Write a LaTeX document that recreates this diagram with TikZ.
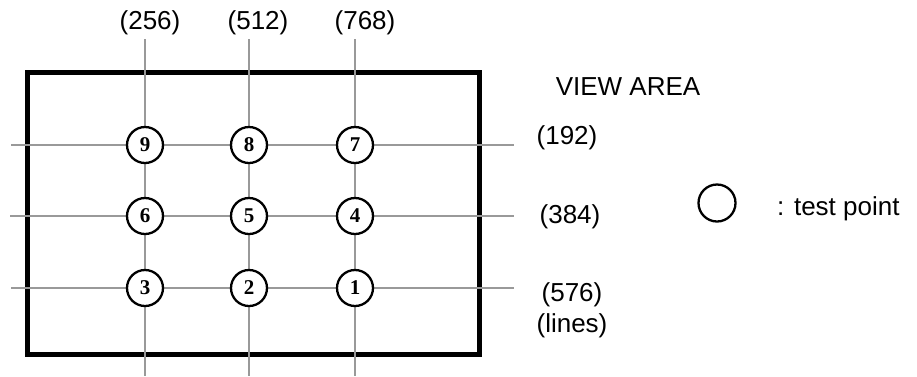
\documentclass[tikz,border=0pt]{standalone}
\usepackage{fontspec}
\setmainfont{Liberation Sans}
\newfontfamily\numfont{Liberation Serif}
\begin{document}
\begin{tikzpicture}[x=1pt,y=-1pt,
  gridline/.style={draw=black!40,line width=2pt},
  frame/.style={draw=black,line width=5pt},
  tp/.style={circle,draw=black,line width=2.3pt,fill=white,minimum size=36pt,inner sep=0pt,font=\numfont\bfseries\fontsize{21}{21}\selectfont},
  lbl/.style={inner sep=0pt,font=\fontsize{26}{31}\selectfont}]
\useasboundingbox (0,0) rectangle (917,376);
% frame
\draw[frame] (27.5,72) rectangle (479,354);
% grid end points
\coordinate (tA) at (145,39);  \coordinate (bA) at (145,376);
\coordinate (tB) at (249,39);  \coordinate (bB) at (249,376);
\coordinate (tC) at (355,39);  \coordinate (bC) at (355,376);
\coordinate (lR1) at (11,145); \coordinate (rR1) at (514,145);
\coordinate (lR2) at (10,216); \coordinate (rR2) at (514,216);
\coordinate (lR3) at (11,288); \coordinate (rR3) at (514,288);
\draw[gridline] (tA) -- (bA);
\draw[gridline] (tB) -- (bB);
\draw[gridline] (tC) -- (bC);
\draw[gridline] (lR1) -- (rR1);
\draw[gridline] (lR2) -- (rR2);
\draw[gridline] (lR3) -- (rR3);
% test points
\node[tp] (c9) at (145,145) {9};
\node[tp] (c8) at (249,145) {8};
\node[tp] (c7) at (355,145) {7};
\node[tp] (c6) at (145,216) {6};
\node[tp] (c5) at (249,216) {5};
\node[tp] (c4) at (355,216) {4};
\node[tp] (c3) at (145,288) {3};
\node[tp] (c2) at (249,288) {2};
\node[tp] (c1) at (355,288) {1};
% column labels
\node[lbl] (x256) at (150,23) {(256)};
\node[lbl] (x512) at (258,23) {(512)};
\node[lbl] (x768) at (365,23) {(768)};
% row labels
\node[lbl] (view) at (628,87) {VIEW AREA};
\node[lbl] (y192) at (567,138) {(192)};
\node[lbl] (y384) at (570,217) {(384)};
\node[lbl,align=center] (y576) at (572,310) {(576)\\(lines)};
% legend
\node[circle,draw=black,line width=2.3pt,minimum size=37pt,inner sep=0pt] (legc) at (717,203) {};
\node[lbl,anchor=base west] (legt) at (777,215) {: test point};
\end{tikzpicture}
\end{document}
